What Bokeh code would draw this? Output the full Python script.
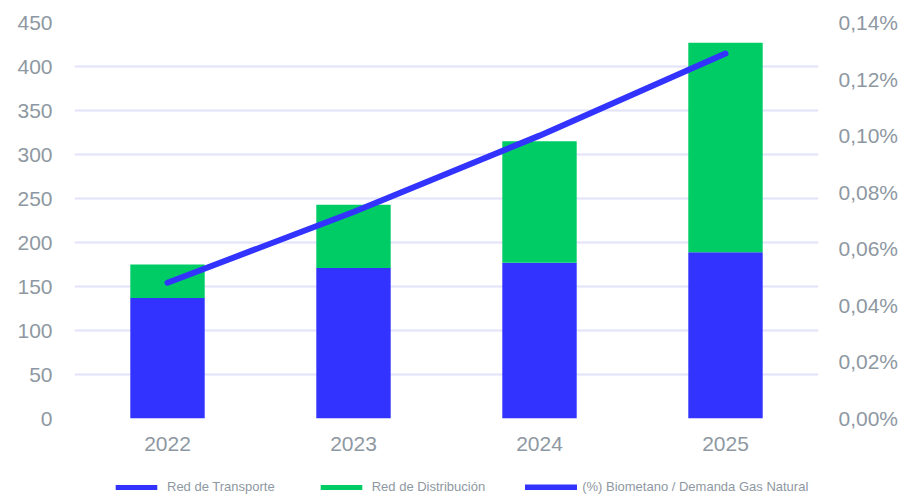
from bokeh.plotting import figure
from bokeh.layouts import column
from bokeh.models import (ColumnDataSource, Range1d, LinearAxis, FixedTicker,
                          CustomJSTickFormatter, Legend, LegendItem, FactorRange)
from bokeh.embed import file_html
from bokeh.resources import INLINE

years = ["2022", "2023", "2024", "2025"]
red_transporte = [137, 171, 177, 189]
red_distribucion = [38, 72, 138, 238]
pct_biometano = [0.048, 0.073, 0.100, 0.129]
left_ticks = [0, 50, 100, 150, 200, 250, 300, 350, 400, 450]
right_ticks = [0.0, 0.02, 0.04, 0.06, 0.08, 0.10, 0.12, 0.14]
legend_labels = ["Red de Transporte", "Red de Distribución", "(%) Biometano / Demanda Gas Natural"]

BLUE = "#3333ff"
GREEN = "#00cc66"
GRAY = "#8e98a2"
GRID = "#e2e2fa"
FONT = "Liberation Sans"

src = ColumnDataSource(dict(year=years, transporte=red_transporte,
                            distribucion=red_distribucion, pct=pct_biometano))

p = figure(x_range=FactorRange(*years), y_range=Range1d(0, 450),
           frame_width=744, frame_height=396,
           min_border_left=74, min_border_right=91, min_border_top=22, min_border_bottom=52,
           output_backend="svg", toolbar_location=None, outline_line_color=None)
p.x_range.range_padding = 0

p.extra_y_ranges = {"pct": Range1d(0, 0.14)}

bars = p.vbar_stack(["transporte", "distribucion"], x="year", width=0.4, source=src,
                    color=[BLUE, GREEN], line_color=None)
ln = p.line(x="year", y="pct", source=src, y_range_name="pct", line_color=BLUE,
            line_width=6, line_cap="round")

# axes
p.yaxis.ticker = FixedTicker(ticks=left_ticks)
for ax in [p.xaxis[0], p.yaxis[0]]:
    ax.axis_line_color = None
    ax.major_tick_line_color = None
    ax.minor_tick_line_color = None
    ax.major_label_text_color = GRAY
    ax.major_label_text_font = FONT
    ax.major_label_text_font_size = "21px"
p.yaxis.major_label_standoff = 16
p.xaxis.major_label_standoff = 12

ry = LinearAxis(y_range_name="pct", ticker=FixedTicker(ticks=right_ticks),
                formatter=CustomJSTickFormatter(code="return tick.toFixed(2).replace('.', ',') + '%';"))
ry.axis_line_color = None
ry.major_tick_line_color = None
ry.minor_tick_line_color = None
ry.major_label_text_color = GRAY
ry.major_label_text_font = FONT
ry.major_label_text_font_size = "21px"
ry.major_label_standoff = 14
p.add_layout(ry, "right")

p.xgrid.grid_line_color = None
p.ygrid.grid_line_color = GRID
p.ygrid.grid_line_width = 2

# legend strip: same series drawn out of view, only their legend is visible
lf = figure(width=909, height=24, x_range=FactorRange(*years), y_range=Range1d(5000, 5001),
            x_axis_type=None, y_axis_type=None, min_border=0,
            output_backend="svg", toolbar_location=None, outline_line_color=None)
lf.grid.visible = False
lbars = lf.vbar_stack(["transporte", "distribucion"], x="year", width=0.4, source=src,
                      color=[BLUE, GREEN], line_color=None)
lln = lf.line(x="year", y="pct", source=src, line_color=BLUE, line_width=6, line_cap="round")

legend = Legend(items=[
    LegendItem(label=legend_labels[0], renderers=[lbars[0]]),
    LegendItem(label=legend_labels[1], renderers=[lbars[1]]),
    LegendItem(label=legend_labels[2], renderers=[lln]),
], orientation="horizontal", location=(36, 0))
legend.glyph_width = 52
legend.glyph_height = 6
legend.label_height = 14
legend.label_standoff = 5
legend.spacing = 40
legend.padding = 0
legend.margin = 0
legend.border_line_color = None
legend.background_fill_alpha = 0
legend.label_text_font = FONT
legend.label_text_font_size = "13px"
legend.label_text_color = GRAY
lf.add_layout(legend, "center")

layout = column(p, lf, spacing=0)
open("out.html", "w").write(file_html(layout, INLINE))
